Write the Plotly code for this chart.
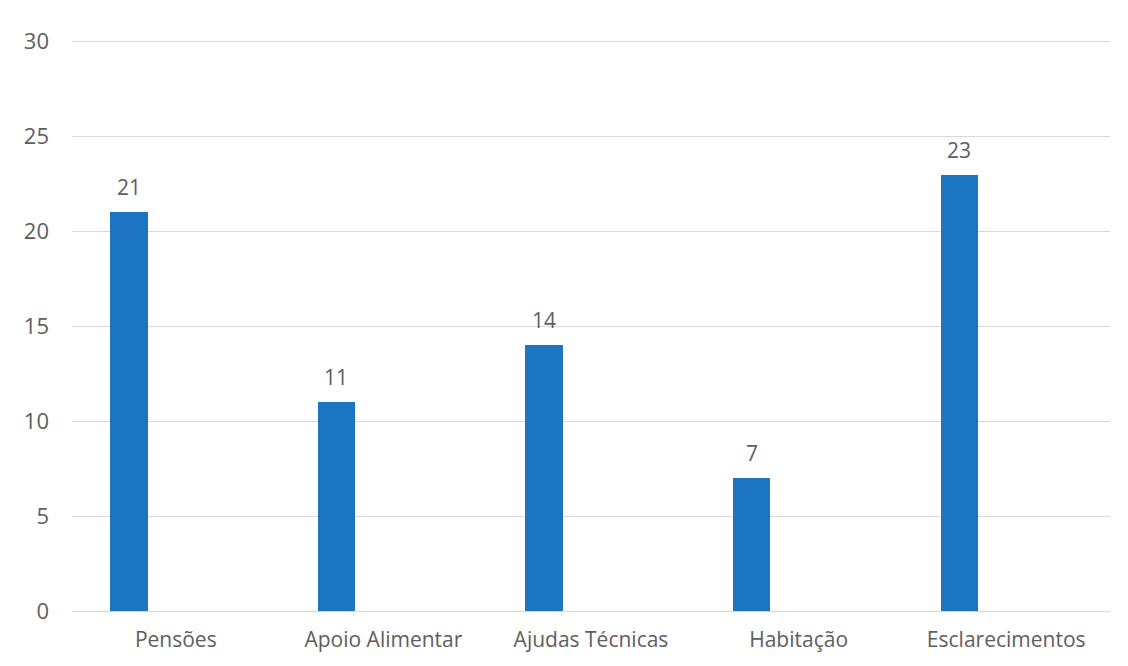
import plotly.graph_objects as go

categories = ["Pensões", "Apoio Alimentar", "Ajudas Técnicas", "Habitação", "Esclarecimentos"]
values = [21, 11, 14, 7, 23]
y_ticks = [0, 5, 10, 15, 20, 25, 30]

BAR_COLOR = "#1c75c2"
TEXT_COLOR = "#5e5e5e"
GRID_COLOR = "#d9d9d9"
FONT = "Open Sans, Liberation Sans, sans-serif"

fig = go.Figure()
fig.add_trace(go.Bar(
    x=categories,
    y=values,
    width=0.18,
    offset=-0.316,
    marker=dict(color=BAR_COLOR, line=dict(width=0)),
    hoverinfo="x+y",
))

# value labels above each bar, from the same values
for cat, val in zip(categories, values):
    fig.add_annotation(
        x=cat, y=val, text=str(val),
        xref="x", yref="y",
        xshift=-47, yshift=9,
        yanchor="bottom", showarrow=False,
        font=dict(family=FONT, size=21, color=TEXT_COLOR),
    )

fig.update_layout(
    width=1128, height=666,
    margin=dict(l=72, r=18, t=36, b=55),
    paper_bgcolor="white",
    plot_bgcolor="white",
    showlegend=False,
    font=dict(family=FONT, size=20, color=TEXT_COLOR),
    bargap=0,
)
fig.update_xaxes(
    showgrid=False, showline=False, zeroline=False,
    ticks="", ticklabelstandoff=14,
    tickfont=dict(family=FONT, size=21, color=TEXT_COLOR),
)
fig.update_yaxes(
    range=[0, 30.3], tickvals=y_ticks,
    showgrid=True, gridcolor=GRID_COLOR, gridwidth=1,
    zeroline=True, zerolinecolor=GRID_COLOR, zerolinewidth=1,
    showline=False, ticks="", ticklabelstandoff=22,
    tickfont=dict(family=FONT, size=22, color=TEXT_COLOR),
)

fig.write_html("out.html")
